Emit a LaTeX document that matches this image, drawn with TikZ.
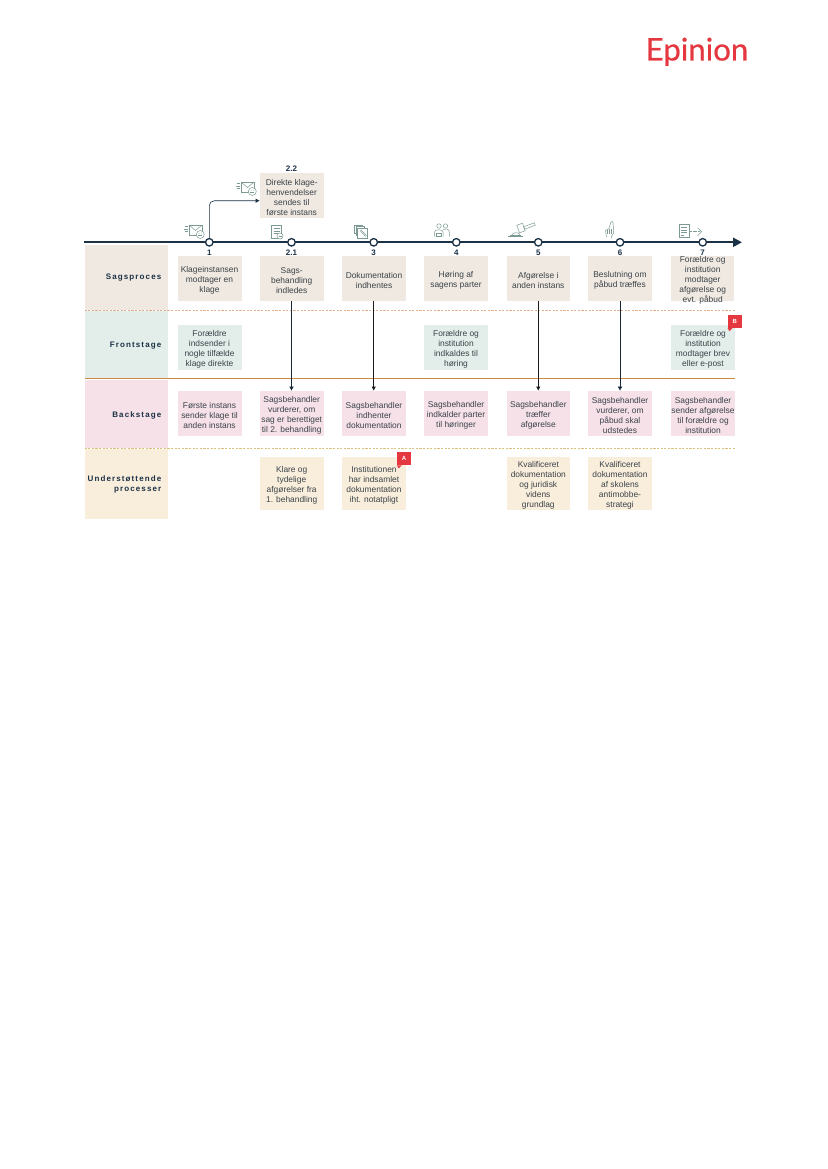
\documentclass[tikz,border=0pt]{standalone}
\usepackage{fontspec}
\setmainfont{Liberation Sans}
\newfontfamily\labfont[LetterSpace=14]{Liberation Sans}
\newfontfamily\logofont[FakeBold=0.5]{Lato}
\usetikzlibrary{arrows.meta}
\definecolor{navy}{HTML}{1B3146}
\definecolor{txt}{HTML}{3A4248}
\definecolor{sandc}{HTML}{F0E9E1}
\definecolor{mintc}{HTML}{E3EEEA}
\definecolor{pinkc}{HTML}{F6E1E9}
\definecolor{creamc}{HTML}{F9EEDC}
\definecolor{orangec}{HTML}{C98A3C}
\definecolor{dashsalmon}{HTML}{E3AE8C}
\definecolor{dashyellow}{HTML}{D8C27E}
\definecolor{redc}{HTML}{E4373F}
\definecolor{iconc}{HTML}{7C9A93}
\tikzset{
  x=1pt,y=-1pt,
  cell/.style={minimum width=64pt,inner sep=0pt,outer sep=0pt,anchor=center},
  celltext/.style={inner sep=0pt,outer sep=0pt,align=center,text=txt,
     font=\fontsize{8.4}{10}\selectfont,anchor=center},
  sandbox/.style={cell,fill=sandc,minimum height=45.5pt},
  mintbox/.style={cell,fill=mintc,minimum height=45.5pt},
  pinkbox/.style={cell,fill=pinkc,minimum height=45pt},
  creambox/.style={cell,fill=creamc,minimum height=52.5pt},
  panel/.style={minimum width=83.5pt,inner sep=0pt,anchor=north west},
  rowlabel/.style={anchor=east,align=right,inner sep=0pt,text=navy,font=\labfont\bfseries\fontsize{8}{10}\selectfont},
  num/.style={text=navy,font=\bfseries\fontsize{8}{9}\selectfont,inner sep=0pt},
  stop/.style={circle,draw=navy,line width=1.3pt,fill=white,minimum size=7.5pt,inner sep=0pt},
  flow/.style={-{Latex[length=4pt,width=4.5pt]},draw=black!90,line width=.8pt},
  flowthin/.style={-{Latex[length=4pt,width=4.5pt]},draw=navy!80!black,line width=.5pt},
  sep/.style={dash pattern=on 2.2pt off 1.4pt,line width=.6pt},
  flagbox/.style={fill=redc,text=white,minimum width=14pt,minimum height=13.5pt,inner sep=0pt,
     font=\bfseries\fontsize{6}{6}\selectfont},
  ico/.style={draw=iconc,line width=.5pt,fill=none},
}
% style, name, x, y, text: a filled cell and its text, set slightly below the cell's middle
\newcommand{\cellbox}[5]{%
  \node[#1] (#2) at (#3,#4) {};
  \node[celltext,yshift=-2pt] (#2t) at (#2.center) {#5};}
\newcommand{\mailicon}[2]{%
 \begin{scope}[shift={(#1,#2)}]
  \draw[ico] (-5,-6) rectangle (8,4);
  \draw[ico] (-5,-6) -- (1.5,-0.5) -- (8,-6);
  \draw[ico] (-9.5,-4.5) -- (-6.5,-4.5) (-10.5,-2) -- (-6.5,-2) (-9.5,0.5) -- (-6.5,0.5);
  \draw[ico,fill=white] (6.3,3.5) circle (4);
  \draw[ico] (4.3,4.5) -- (8.3,4.5);
  \fill[iconc] (5,2.2) circle (.4) (7.6,2.2) circle (.4);
 \end{scope}}
\begin{document}
\begin{tikzpicture}
\useasboundingbox (0,0) rectangle (827,1169);
\fill[white] (0,0) rectangle (827,1169);
% logo
\node[text=redc,font=\logofont\fontsize{31.2}{32}\selectfont,anchor=base west,inner sep=0pt] (logo) at (645.5,60.5) {Epinion};
% panels
\node[panel,fill=sandc,minimum height=65pt] (p1) at (84.5,245) {};
\node[panel,fill=mintc,minimum height=67pt] (p2) at (84.5,311) {};
\node[panel,fill=pinkc,minimum height=68pt] (p3) at (84.5,380) {};
\node[panel,fill=creamc,minimum height=70pt] (p4) at (84.5,449) {};
\node[rowlabel] (l1) at (161.5,277.5) {Sagsproces};
\node[rowlabel] (l2) at (161.5,345.7) {Frontstage};
\node[rowlabel] (l3) at (161.5,415) {Backstage};
\node[rowlabel] (l4) at (161.5,484.2) {Understøttende\\processer};
% separators
\coordinate (s1a) at (84.5,310.3); \coordinate (s1b) at (735,310.3);
\coordinate (s2a) at (84.5,378.4); \coordinate (s2b) at (735,378.4);
\coordinate (s3a) at (84.5,448.4); \coordinate (s3b) at (735,448.4);
\draw[sep,draw=dashsalmon] (s1a) -- (s1b);
\draw[draw=orangec,line width=1.3pt] (s2a) -- (s2b);
\draw[sep,draw=dashyellow] (s3a) -- (s3b);
% row 1
\cellbox{sandbox}{a1}{209.5}{278.5}{Klageinstansen\\modtager en\\klage}
\cellbox{sandbox}{a2}{291.7}{278.5}{Sags-\\behandling\\indledes}
\cellbox{sandbox}{a3}{374}{278.5}{Dokumentation\\indhentes}
\cellbox{sandbox,minimum width=63.5pt}{a4}{456}{278.5}{Høring af\\sagens parter}
\cellbox{sandbox,minimum width=63.5pt}{a5}{538.3}{278.5}{Afgørelse i\\anden instans}
\cellbox{sandbox}{a6}{620}{278.5}{Beslutning om\\påbud træffes}
\cellbox{sandbox,minimum width=63.5pt}{a7}{702.7}{278.5}{Forældre og\\institution\\modtager\\afgørelse og\\evt. påbud}
\cellbox{sandbox}{b0}{291.7}{195.5}{Direkte klage-\\henvendelser\\sendes til\\første instans}
% row 2
\cellbox{mintbox}{f1}{209.5}{347.7}{Forældre\\indsender i\\nogle tilfælde\\klage direkte}
\cellbox{mintbox,minimum width=63.5pt}{f4}{456}{347.7}{Forældre og\\institution\\indkaldes til\\høring}
\cellbox{mintbox}{f7}{703}{347.7}{Forældre og\\institution\\modtager brev\\eller e-post}
% row 3
\cellbox{pinkbox}{k1}{209.5}{413.2}{Første instans\\sender klage til\\anden instans}
\cellbox{pinkbox}{k2}{291.7}{413.2}{Sagsbehandler\\vurderer, om\\sag er berettiget\\til 2. behandling}
\cellbox{pinkbox}{k3}{374}{413.2}{Sagsbehandler\\indhenter\\dokumentation}
\cellbox{pinkbox,minimum width=63.5pt}{k4}{456}{413.2}{Sagsbehandler\\indkalder parter\\til høringer}
\cellbox{pinkbox,minimum width=63.5pt}{k5}{538.3}{413.2}{Sagsbehandler\\træffer\\afgørelse}
\cellbox{pinkbox}{k6}{620}{413.2}{Sagsbehandler\\vurderer, om\\påbud skal\\udstedes}
\cellbox{pinkbox}{k7}{703}{413.2}{Sagsbehandler\\sender afgørelse\\til forældre og\\institution}
% row 4
\cellbox{creambox}{u2}{291.7}{483.5}{Klare og\\tydelige\\afgørelser fra\\1. behandling}
\cellbox{creambox}{u3}{374}{483.5}{Institutionen\\har indsamlet\\dokumentation\\iht. notatpligt}
\cellbox{creambox,minimum width=63.5pt}{u5}{538.3}{483.5}{Kvalificeret\\dokumentation\\og juridisk\\videns\\grundlag}
\cellbox{creambox}{u6}{620}{483.5}{Kvalificeret\\dokumentation\\af skolens\\antimobbe-\\strategi}
% timeline
\coordinate (t0) at (84,242.3);
\coordinate (t1) at (742,242.3);
\draw[navy,line width=2.2pt,-{Triangle[length=9pt,width=9pt]}] (t0) -- (t1);
\foreach \n/\x/\t in {c1/209.3/1,c2/291.5/2.1,c3/373.7/3,c4/456.3/4,c5/538.3/5,c6/620/6,c7/702.7/7}{
  \node[stop] (\n) at (\x,242.3) {};
  \node[num] (n\n) at (\x,252.5) {\t};
}
\node[num] (n22) at (291.5,169) {2.2};
% connectors
\draw[flow,draw=navy,line width=.6pt,rounded corners=5pt] (c1.north) |- ([yshift=-5.2pt]b0.west);
\draw[flowthin] (a2.south -| c2) -- (k2.north -| c2);
\draw[flow] (a3.south -| c3) -- (k3.north -| c3);
\draw[flow] (a5.south -| c5) -- (k5.north -| c5);
\draw[flowthin] (a6.south -| c6) -- (k6.north -| c6);
% flags
\node[flagbox] (fb) at (734.7,321.3) {B};
\fill[redc] (fb.south west) ++(0,-0.2) -- ++(5,0) -- ++(-3,3.2) -- cycle;
\node[flagbox] (fa) at (404,458.5) {A};
\fill[redc] (fa.south west) ++(0,-0.2) -- ++(5,0) -- ++(-3,3.2) -- cycle;
% icons
\mailicon{194}{231}
\mailicon{246}{188}
% 2.1 document
\draw[ico] (271.5,225.7) rectangle (281.7,238);
\draw[ico] (273.5,228.5) -- (279.5,228.5) (273.5,231) -- (279.5,231) (273.5,233.5) -- (278,233.5);
\draw[ico,fill=white] (280,236) circle (3);
\draw[ico] (278.5,236.2) -- (281.5,236.2);
% 3 stacked docs
\draw[ico] (354.5,225) rectangle (362.5,233.5);
\draw[ico,fill=white] (356,226.5) rectangle (364,235);
\draw[ico,fill=white] (357.5,228) rectangle (367,238);
\draw[ico] (360,230.5) -- (365.5,236.5);
\draw[ico] (361,229.8) -- (366.5,235.8);
% 4 people
\draw[ico] (439,226) circle (2.2) (445.5,226) circle (2.2);
\draw[ico] (434.5,236.5) -- (434.5,232) .. controls (434.5,229) and (443,229) .. (443,232) -- (443,236.5);
\draw[ico] (443,229.5) .. controls (446,228.5) and (449.3,229) .. (449.3,232) -- (449.3,236.5);
\draw[ico] (436.5,236.7) -- (441,236.7) (436.5,233) rectangle (441,236.7);
% 5 gavel
\draw[ico,rotate around={20:(521,228)}] (518,224) rectangle (524,232);
\draw[ico,rotate around={20:(524,228)}] (524,226.7) rectangle (535.5,229.3);
\draw[ico] (508,236.5) -- (523,236.5) (510,234.8) -- (521,234.8);
\draw[ico] (512,234.8) .. controls (513,232) and (519,232) .. (520,234.8);
% 6 hand
\draw[ico] (606.5,237) -- (605.5,230.5) -- (609,228.5) -- (610.8,222.5) .. controls (611.3,221) and (613,221) .. (613,222.5) -- (613.5,229) -- (613.5,233) -- (611.5,236.5) -- (611.5,238);
\draw[ico] (607.5,230) -- (607.5,233.5) (609.5,229) -- (609.5,233.5) (611.5,229) -- (611.5,233.5);
% 7 document with arrow
\draw[ico] (679,224.5) rectangle (689.3,237.7);
\draw[ico] (681,227.5) -- (687,227.5) (681,230) -- (687,230) (681,232.5) -- (687,232.5) (681,235) -- (684,235);
\draw[ico,dash pattern=on 2pt off .7pt] (690,231.7) -- (701,231.7);
\draw[ico] (697.5,227.7) -- (701.7,231.7) -- (697.5,235.7);
\end{tikzpicture}
\end{document}
